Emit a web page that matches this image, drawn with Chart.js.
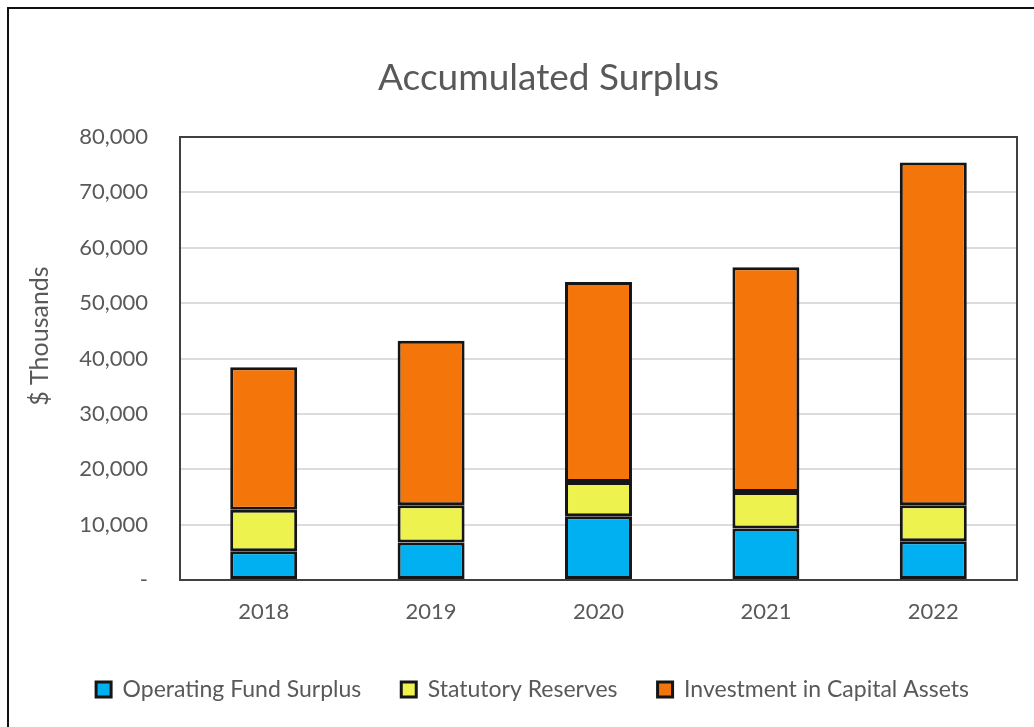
<!DOCTYPE html>
<html>
<head>
<meta charset="utf-8">
<script src="https://cdn.jsdelivr.net/npm/chart.js@4"></script>
<style>
  html, body { margin: 0; padding: 0; background: #fff; overflow: hidden; }
  #frame { position: absolute; left: 7px; top: 7px; width: 1100px; height: 800px; border: 2px solid #111; }
  #wrap { position: absolute; left: 0; top: 0; width: 1034px; height: 727px; }
</style>
</head>
<body>
<div id="frame"></div>
<div id="wrap"><canvas id="myChart" width="1034" height="727"></canvas></div>
<script>
// values in $ thousands
const years = ['2018', '2019', '2020', '2021', '2022'];
const operatingFund = [5200, 6750, 11500, 9300, 7000];
const statutoryReserves = [7500, 6750, 6200, 6600, 6500];
const capitalAssets = [25700, 29700, 36100, 40600, 61900];

const grey = '#595959';
const fontName = 'Lato';

// box around the plot area
const plotBorder = {
    id: 'plotBorder',
    afterLayout(chart) {
        // shift title and legend centres like the original
        chart.titleBlock.left = 80;
        chart.titleBlock.right = 1017;
        chart.legend.left = 48;
        chart.legend.right = 1017;
    },
    beforeDatasetsDraw(chart) {
        const a = chart.chartArea;
        const ctx = chart.ctx;
        ctx.save();
        ctx.strokeStyle = '#404040';
        ctx.lineWidth = 2;
        ctx.strokeRect(a.left, a.top, a.right - a.left, a.bottom - a.top);
        ctx.restore();
    }
};

var ctx = document.getElementById('myChart').getContext('2d');
var chart = new Chart(ctx, {
    type: 'bar',
    data: {
        labels: years,
        datasets: [{
            label: 'Operating Fund Surplus',
            backgroundColor: '#00B0F0',
            data: operatingFund
        }, {
            label: 'Statutory Reserves',
            backgroundColor: '#EEF24F',
            data: statutoryReserves
        }, {
            label: 'Investment in Capital Assets',
            backgroundColor: '#F4760B',
            data: capitalAssets
        }]
    },
    options: {
        responsive: false,
        animation: false,
        layout: { padding: { left: 0, right: 17, top: 0, bottom: 16 } },
        datasets: {
            bar: {
                borderColor: '#151515',
                borderWidth: 3,
                borderSkipped: false,
                barPercentage: 0.4,
                categoryPercentage: 1
            }
        },
        plugins: {
            title: {
                display: true,
                text: 'Accumulated Surplus',
                color: grey,
                font: { family: fontName, size: 37, weight: 'normal' },
                padding: { top: 55.8, bottom: 36.8 }
            },
            legend: {
                position: 'bottom',
                labels: {
                    color: grey,
                    font: { family: fontName, size: 23 },
                    boxWidth: 15,
                    boxHeight: 15,
                    padding: 40
                }
            },
            tooltip: { enabled: false }
        },
        scales: {
            x: {
                stacked: true,
                grid: { display: false, drawTicks: false },
                border: { display: false },
                ticks: { color: grey, font: { family: fontName, size: 22 }, padding: 19 },
                afterFit(scale) { scale.height = 58; }
            },
            y: {
                stacked: true,
                min: 0,
                max: 80000,
                grid: { color: '#dcdcdc', lineWidth: 2, drawTicks: false },
                border: { display: false },
                ticks: {
                    stepSize: 10000,
                    color: grey,
                    font: { family: fontName, size: 22 },
                    padding: 32,
                    callback: v => v === 0 ? '-' : v.toLocaleString('en-US')
                },
                title: {
                    display: true,
                    text: '       $ Thousands',
                    color: grey,
                    font: { family: fontName, size: 25 },
                    padding: { top: 25, bottom: 0 }
                },
                afterFit(scale) { scale.width = 180; }
            }
        }
    },
    plugins: [plotBorder]
});
</script>
</body>
</html>
